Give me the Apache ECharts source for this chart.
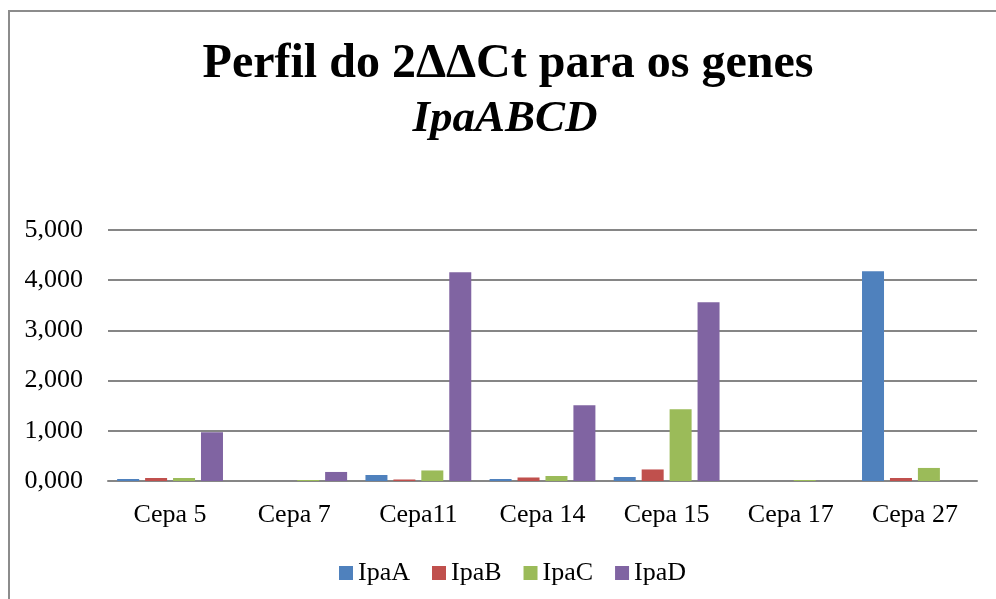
<!DOCTYPE html>
<html>
<head>
    <meta charset="utf-8">
    <title>Perfil do 2ΔΔCt</title>
    <script src="https://cdn.jsdelivr.net/npm/echarts@6/dist/echarts.min.js"></script>
</head>
<body style="margin:0;background:#fff;">
<div id="chart" style="width: 996px;height:599px;"></div>

<script type="text/javascript">
    // dados
    var cepas = ['Cepa 5', 'Cepa 7', 'Cepa11', 'Cepa 14', 'Cepa 15', 'Cepa 17', 'Cepa 27'];
    var ipaA = [0.04, 0, 0.12, 0.04, 0.08, 0, 4.18];
    var ipaB = [0.06, 0, 0.03, 0.07, 0.23, 0, 0.06];
    var ipaC = [0.06, 0.02, 0.21, 0.10, 1.43, 0.02, 0.26];
    var ipaD = [0.97, 0.18, 4.16, 1.51, 3.56, 0, 0];
    var yTicks = [0, 1, 2, 3, 4, 5];

    var fonte = '"Liberation Serif", "Times New Roman", serif';

    function serie(nome, dados, cor) {
        return {
            name: nome,
            type: 'bar',
            data: dados,
            barWidth: 22,
            barGap: '27%',
            itemStyle: { color: cor }
        };
    }

    var chart = echarts.init(document.getElementById('chart'));

    var option = {
        animation: false,
        backgroundColor: '#fff',
        textStyle: { fontFamily: fonte },
        title: [{
            text: 'Perfil do 2ΔΔCt para os genes',
            left: 503,
            top: 36,
            textAlign: 'center',
            textStyle: { fontFamily: fonte, fontSize: 48, fontWeight: 'bold', color: '#000' }
        }, {
            text: 'IpaABCD',
            left: 500,
            top: 92,
            textAlign: 'center',
            textStyle: { fontFamily: fonte, fontSize: 45, fontWeight: 'bold', fontStyle: 'italic', color: '#000' }
        }],
        graphic: [{
            type: 'rect',
            shape: { x: 9, y: 11, width: 1000, height: 600 },
            style: { fill: 'none', stroke: '#8c8c8c', lineWidth: 2 },
            silent: true
        }],
        legend: {
            data: ['IpaA', 'IpaB', 'IpaC', 'IpaD'],
            left: 334,
            top: 555,
            itemWidth: 14,
            itemHeight: 14,
            itemGap: 22,
            icon: 'rect',
            textStyle: { fontFamily: fonte, fontSize: 26, color: '#000' }
        },
        grid: { left: 108, right: 19, top: 230, bottom: 118, containLabel: false },
        xAxis: {
            type: 'category',
            data: cepas,
            axisLine: { lineStyle: { color: '#868686', width: 2 } },
            axisTick: { show: false },
            axisLabel: { fontFamily: fonte, fontSize: 26, color: '#000', margin: 21 }
        },
        yAxis: {
            type: 'value',
            min: yTicks[0],
            max: yTicks[yTicks.length - 1],
            interval: 1,
            axisLine: { show: false },
            axisTick: { show: false },
            splitLine: { lineStyle: { color: '#868686', width: 2 } },
            axisLabel: {
                fontFamily: fonte, fontSize: 26, color: '#000', margin: 25,
                formatter: function (v) { return v.toFixed(3).replace('.', ','); }
            }
        },
        series: [
            serie('IpaA', ipaA, '#4f81bd'),
            serie('IpaB', ipaB, '#c0504d'),
            serie('IpaC', ipaC, '#9bbb59'),
            serie('IpaD', ipaD, '#8064a2')
        ]
    };

    chart.setOption(option);
</script>
</body>
</html>
